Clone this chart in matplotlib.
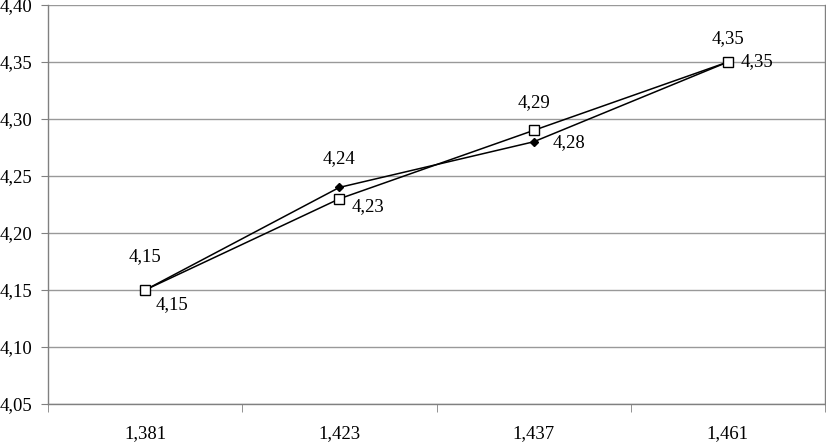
import matplotlib.pyplot as plt
import numpy as np

plt.rcParams['font.family'] = ['Liberation Serif', 'DejaVu Serif']

categories = ["1,381", "1,423", "1,437", "1,461"]
series_diamond = [4.15, 4.24, 4.28, 4.35]
series_square = [4.15, 4.23, 4.29, 4.35]
y_ticks = [4.05, 4.10, 4.15, 4.20, 4.25, 4.30, 4.35, 4.40]

# label offsets in pixels (dx, dy), relative to the marker
off_diamond = [(0, 33), (0, 29), (35, -1), (0, 23)]
off_square = [(27, -15), (29, -8), (0, 28), (29, 0)]

FS = 13.5

fig = plt.figure(figsize=(8.26, 4.42), dpi=100)
ax = fig.add_axes([48 / 826, 38 / 442, 777 / 826, 399 / 442])

x = np.arange(len(categories))
ax.plot(x, series_diamond, color='black', lw=1.1, marker='D', ms=4.5,
        mfc='black', mec='black', zorder=3)
ax.plot(x, series_square, color='black', lw=1.1, marker='s', ms=7,
        mfc='white', mec='black', mew=1.0, zorder=4)

def fmt(v):
    return f"{v:.2f}".replace('.', ',')

for xi, v, (dx, dy) in zip(x, series_diamond, off_diamond):
    ax.annotate(fmt(v), (xi, v), xytext=(dx, dy), textcoords='offset pixels',
                ha='center', va='center', fontsize=FS)
for xi, v, (dx, dy) in zip(x, series_square, off_square):
    ax.annotate(fmt(v), (xi, v), xytext=(dx, dy), textcoords='offset pixels',
                ha='center', va='center', fontsize=FS)

ax.set_xlim(-0.5, 3.5)
ax.set_ylim(4.05, 4.40)
ax.set_yticks(y_ticks)
ax.set_yticklabels([fmt(v) for v in y_ticks], fontsize=FS)
ax.set_xticks(x)
ax.set_xticklabels(categories, fontsize=FS)
ax.tick_params(axis='x', length=0, pad=15)
ax.set_xticks(np.arange(-0.5, 3.6, 1), minor=True)
ax.tick_params(axis='x', which='minor', length=6, color='#808080', direction='out')
ax.tick_params(axis='y', length=5, color='#808080', pad=6)

ax.grid(axis='y', color='#999999', lw=1)
ax.set_axisbelow(True)
ax.spines['top'].set_visible(False)
for s in ['left', 'bottom', 'right']:
    ax.spines[s].set_color('#808080')
    ax.spines[s].set_linewidth(1)

fig.savefig('out.png', dpi=100)
